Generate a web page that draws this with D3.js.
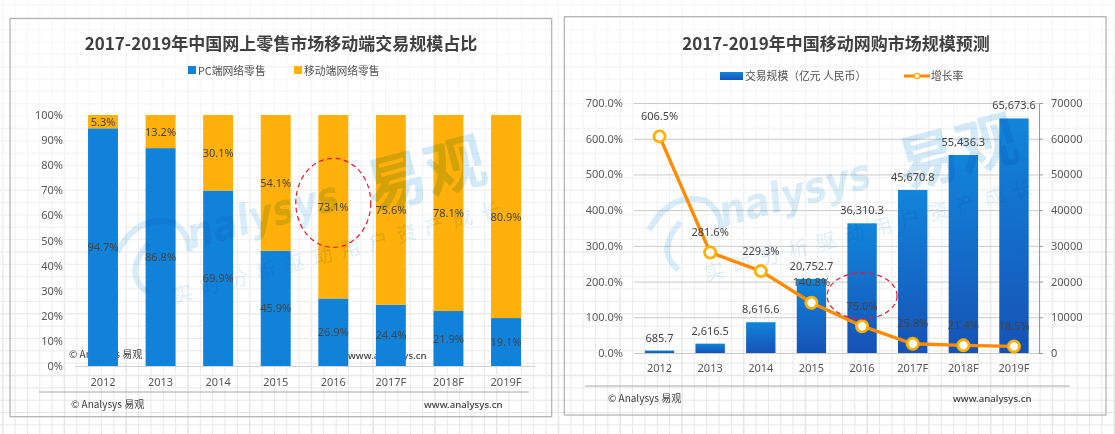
<!DOCTYPE html>
<html>
<head>
<meta charset="utf-8">
<script src="https://cdnjs.cloudflare.com/ajax/libs/d3/7.8.5/d3.min.js"></script>
<style>
  html, body { margin: 0; padding: 0; background: #fff; overflow: hidden; }
  svg { display: block; filter: blur(0.35px); }
  text { font-family: "Noto Sans CJK SC", "Noto Sans", sans-serif; fill: #505050; }
  .title { font-size: 17px; font-weight: 700; fill: #404040; text-anchor: middle; }
  .small { font-size: 10.8px; }
  .foot { font-size: 10px; fill: #404040; }
  .url { font-size: 9.7px; font-family: "Noto Sans", sans-serif; fill: #404040; font-weight: 500; }
  .axis text { font-size: 11px; font-family: "Noto Sans", sans-serif; fill: #595959; }
  .halo text { paint-order: stroke; stroke: #fff; stroke-width: 2px; }
  .lab { font-size: 11px; font-family: "Noto Sans", sans-serif; text-anchor: middle; fill: #444; }
</style>
</head>
<body>
<script>
// left chart
var years = ['2012', '2013', '2014', '2015', '2016', '2017F', '2018F', '2019F'];
var pcShare = [94.7, 86.8, 69.9, 45.9, 26.9, 24.4, 21.9, 19.1];
var mobileShare = [5.3, 13.2, 30.1, 54.1, 73.1, 75.6, 78.1, 80.9];
var shareTicks = [0, 10, 20, 30, 40, 50, 60, 70, 80, 90, 100];

// right chart
var gmv = [685.7, 2616.5, 8616.6, 20752.7, 36310.3, 45670.8, 55436.3, 65673.6];
var growth = [606.5, 281.6, 229.3, 140.8, 75.0, 25.8, 21.4, 18.5];
var growthTicks = [0, 100, 200, 300, 400, 500, 600, 700];
var gmvTicks = [0, 10000, 20000, 30000, 40000, 50000, 60000, 70000];

var blue = '#1182d9';
var yellow = '#ffb00a';

var svg = d3.select('body').append('svg')
    .attr('width', 1115)
    .attr('height', 434);

var defs = svg.append('defs');

var paper = defs.append('linearGradient')
    .attr('id', 'paper')
    .attr('gradientUnits', 'userSpaceOnUse')
    .attr('x1', 0).attr('y1', 0).attr('x2', 0).attr('y2', 434);
paper.append('stop').attr('offset', '0').attr('stop-color', '#f8f8f8');
paper.append('stop').attr('offset', '0.45').attr('stop-color', '#f1f1f1');
paper.append('stop').attr('offset', '1').attr('stop-color', '#e6e6e6');

var barFill = defs.append('linearGradient')
    .attr('id', 'barFill')
    .attr('x1', 0).attr('y1', 0).attr('x2', 0).attr('y2', 1);
barFill.append('stop').attr('offset', '0').attr('stop-color', '#1185da');
barFill.append('stop').attr('offset', '1').attr('stop-color', '#1652b6');

// the squared paper behind everything
var cell = 12.35;
svg.append('g').selectAll('line').data(d3.range(0, 91)).enter().append('line')
    .attr('x1', function(d) { return 2.7 + d * cell; })
    .attr('x2', function(d) { return 2.7 + d * cell + 0.01; })
    .attr('y1', 0).attr('y2', 434)
    .attr('stroke', 'url(#paper)')
    .attr('stroke-width', function(d) { return d % 5 === 0 ? 1.6 : 1; });
svg.append('g').selectAll('line').data(d3.range(0, 36)).enter().append('line')
    .attr('y1', function(d) { return 5 + d * cell; })
    .attr('y2', function(d) { return 5 + d * cell + 0.01; })
    .attr('x1', 0).attr('x2', 1115)
    .attr('stroke', 'url(#paper)')
    .attr('stroke-width', function(d) { return d % 5 === 0 ? 1.6 : 1; });

// panel frames
svg.append('rect').attr('x', 10).attr('y', 18.5).attr('width', 541.7).attr('height', 398.2)
    .attr('fill', 'none').attr('stroke', '#b0b0b0').attr('stroke-width', 1.2);
svg.append('rect').attr('x', 564.3).attr('y', 16.7).attr('width', 541.7).attr('height', 398.3)
    .attr('fill', 'none').attr('stroke', '#b0b0b0').attr('stroke-width', 1.2);

function watermark(dx, dy) {
  var g = svg.append('g')
      .attr('transform', 'translate(' + (723 + dx) + ',' + (227 + dy) + ') rotate(-15)')
      .style('mix-blend-mode', 'multiply');
  g.append('path')
      .attr('d', 'M-72,-16 Q-42,-48 -10,-30 Q2,-16 -2,2 M-54,30 Q-72,6 -40,-16')
      .attr('fill', 'none').attr('stroke', '#d8edf9').attr('stroke-width', 6);
  g.append('text').text('nalysys')
      .attr('x', 0).attr('y', 0)
      .attr('textLength', 156).attr('lengthAdjust', 'spacingAndGlyphs')
      .style('font-family', '"DejaVu Sans", sans-serif')
      .style('font-size', '42px').style('font-weight', 700).style('font-style', 'italic')
      .style('fill', '#d8edf9');
  g.append('text').text('易观')
      .attr('x', 185).attr('y', 10)
      .style('font-size', '61px').style('font-weight', 700)
      .style('fill', '#d3ebf9');
  g.append('text').text('实时分析驱动用户资产成长')
      .attr('x', -30).attr('y', 48)
      .style('font-size', '20px').style('letter-spacing', '9px')
      .style('fill', '#e0f0fa');
}

function footer(x1, x2, y, textLeft, textRight) {
  svg.append('line').attr('x1', x1).attr('x2', x2).attr('y1', y).attr('y2', y)
      .attr('stroke', '#a8a8a8').attr('stroke-width', 1);
  svg.append('text').attr('class', 'foot').attr('x', textLeft).attr('y', y + 16).text('© Analysys 易观');
  svg.append('text').attr('class', 'url').attr('x', textRight).attr('y', y + 16).text('www.analysys.cn');
}

// ---- left: share of mobile
var x1 = d3.scaleBand().domain(years).range([74.2, 534.8]).paddingInner(0.48).paddingOuter(0.24);
var y1 = d3.scaleLinear().domain([0, 100]).range([366, 115]);

svg.append('text').attr('class', 'title').attr('x', 281).attr('y', 50)
    .text('2017-2019年中国网上零售市场移动端交易规模占比');

svg.append('rect').attr('x', 188).attr('y', 66).attr('width', 8).attr('height', 8).attr('fill', blue);
svg.append('text').attr('class', 'small').attr('x', 198).attr('y', 74.5).text('PC端网络零售');
svg.append('rect').attr('x', 294).attr('y', 66).attr('width', 8).attr('height', 8).attr('fill', yellow);
svg.append('text').attr('class', 'small').attr('x', 304).attr('y', 74.5).text('移动端网络零售');

svg.append('g').attr('class', 'axis')
    .attr('transform', 'translate(70,0)')
    .call(d3.axisLeft(y1).tickValues(shareTicks).tickSize(0).tickPadding(7)
        .tickFormat(function(d) { return d + '%'; }))
    .call(function(g) { g.select('.domain').remove(); });

// stray footer, the bars cover part of it
svg.append('text').attr('class', 'foot').attr('x', 69).attr('y', 358).text('© Analysys 易观');
svg.append('text').attr('class', 'url').attr('x', 348).attr('y', 359).text('www.analysys.cn');

svg.append('g').selectAll('rect').data(years).enter().append('rect')
    .attr('x', function(d) { return x1(d); })
    .attr('width', x1.bandwidth())
    .attr('y', function(d, i) { return y1(pcShare[i]); })
    .attr('height', function(d, i) { return y1(0) - y1(pcShare[i]); })
    .attr('fill', blue);
svg.append('g').selectAll('rect').data(years).enter().append('rect')
    .attr('x', function(d) { return x1(d); })
    .attr('width', x1.bandwidth())
    .attr('y', function(d, i) { return y1(pcShare[i] + mobileShare[i]); })
    .attr('height', function(d, i) { return y1(pcShare[i]) - y1(pcShare[i] + mobileShare[i]); })
    .attr('fill', yellow);

watermark(-532, 22);

svg.append('g').attr('class', 'axis')
    .attr('transform', 'translate(0,366)')
    .call(d3.axisBottom(x1).tickSize(0).tickPadding(12))
    .call(function(g) { g.select('.domain').attr('stroke', '#d4d4d4'); });

svg.append('g').selectAll('text').data(years).enter().append('text')
    .attr('class', 'lab')
    .attr('x', function(d) { return x1(d) + x1.bandwidth() / 2; })
    .attr('y', function(d, i) { return y1(pcShare[i] / 2) + 4; })
    .text(function(d, i) { return pcShare[i].toFixed(1) + '%'; });
svg.append('g').selectAll('text').data(years).enter().append('text')
    .attr('class', 'lab')
    .attr('x', function(d) { return x1(d) + x1.bandwidth() / 2; })
    .attr('y', function(d, i) { return y1(pcShare[i] + mobileShare[i] / 2) + 4; })
    .text(function(d, i) { return mobileShare[i].toFixed(1) + '%'; });

svg.append('ellipse')
    .attr('cx', x1('2016') + x1.bandwidth() / 2).attr('cy', y1(65))
    .attr('rx', 37.5).attr('ry', 44.5)
    .attr('fill', 'none').attr('stroke', '#f0142d').attr('stroke-width', 1.2).attr('stroke-dasharray', '5 3.5');

footer(39, 529, 392, 71, 424);

// ---- right: mobile online shopping forecast
var x2 = d3.scaleBand().domain(years).range([634.2, 1039.3]).paddingInner(0.42).paddingOuter(0.21);
var yRate = d3.scaleLinear().domain([0, 700]).range([353, 103]);
var yGmv = d3.scaleLinear().domain([0, 70000]).range([353, 103]);

svg.append('text').attr('class', 'title').attr('x', 836).attr('y', 50)
    .text('2017-2019年中国移动网购市场规模预测');

svg.append('rect').attr('x', 720).attr('y', 72).attr('width', 23).attr('height', 8).attr('fill', 'url(#barFill)');
svg.append('text').attr('class', 'small').attr('x', 745).attr('y', 80).text('交易规模（亿元 人民币）');
svg.append('line').attr('x1', 904).attr('x2', 930).attr('y1', 76).attr('y2', 76)
    .attr('stroke', '#ff8a00').attr('stroke-width', 3);
svg.append('circle').attr('cx', 917).attr('cy', 76).attr('r', 2.6)
    .attr('fill', '#fff').attr('stroke', '#ffb000').attr('stroke-width', 1.4);
svg.append('text').attr('class', 'small').attr('x', 931).attr('y', 80).text('增长率');

svg.append('g').attr('class', 'axis halo')
    .attr('transform', 'translate(634,0)')
    .call(d3.axisLeft(yRate).tickValues(growthTicks).tickSize(-405).tickPadding(11)
        .tickFormat(function(d) { return d.toFixed(1) + '%'; }))
    .call(function(g) {
      g.select('.domain').remove();
      g.selectAll('line').attr('stroke', '#c9c9c9').attr('stroke-width', 1);
    });

svg.append('g').attr('class', 'axis')
    .attr('transform', 'translate(1039,0)')
    .call(d3.axisRight(yGmv).tickValues(gmvTicks).tickSize(4).tickPadding(8)
        .tickFormat(function(d) { return d; }))
    .call(function(g) {
      g.select('.domain').attr('stroke', '#9a9a9a');
      g.selectAll('line').attr('stroke', '#9a9a9a');
    });

svg.append('g').selectAll('rect').data(years).enter().append('rect')
    .attr('x', function(d) { return x2(d); })
    .attr('width', x2.bandwidth())
    .attr('y', function(d, i) { return yGmv(gmv[i]); })
    .attr('height', function(d, i) { return yGmv(0) - yGmv(gmv[i]); })
    .attr('fill', 'url(#barFill)');

watermark(0, 0);

svg.append('g').attr('class', 'axis')
    .attr('transform', 'translate(0,353)')
    .call(d3.axisBottom(x2).tickSize(0).tickPadding(11))
    .call(function(g) { g.select('.domain').remove(); });

var center = function(d) { return x2(d) + x2.bandwidth() / 2; };

var rateLine = d3.line()
    .x(function(d) { return center(d); })
    .y(function(d, i) { return yRate(growth[i]); });

svg.append('path').attr('d', rateLine(years))
    .attr('fill', 'none').attr('stroke', '#ff8c00').attr('stroke-width', 3.4);

svg.append('g').selectAll('circle').data(years).enter().append('circle')
    .attr('cx', center)
    .attr('cy', function(d, i) { return yRate(growth[i]); })
    .attr('r', 5.6)
    .attr('fill', '#fff').attr('stroke', '#ffb000').attr('stroke-width', 2.8);

svg.append('g').selectAll('text').data(years).enter().append('text')
    .attr('class', 'lab')
    .attr('x', center)
    .attr('y', function(d, i) { return yGmv(gmv[i]) - 9; })
    .text(function(d, i) { return d3.format(',.1f')(gmv[i]); });
svg.append('g').selectAll('text').data(years).enter().append('text')
    .attr('class', 'lab')
    .attr('x', center)
    .attr('y', function(d, i) { return yRate(growth[i]) - 16.5; })
    .text(function(d, i) { return growth[i].toFixed(1) + '%'; });

svg.append('ellipse')
    .attr('cx', center('2016')).attr('cy', yRate(160))
    .attr('rx', 35).attr('ry', 23)
    .attr('fill', 'none').attr('stroke', '#f0142d').attr('stroke-width', 1.2).attr('stroke-dasharray', '5 3.5');

footer(585, 1070, 386, 608, 953);
</script>
</body>
</html>
